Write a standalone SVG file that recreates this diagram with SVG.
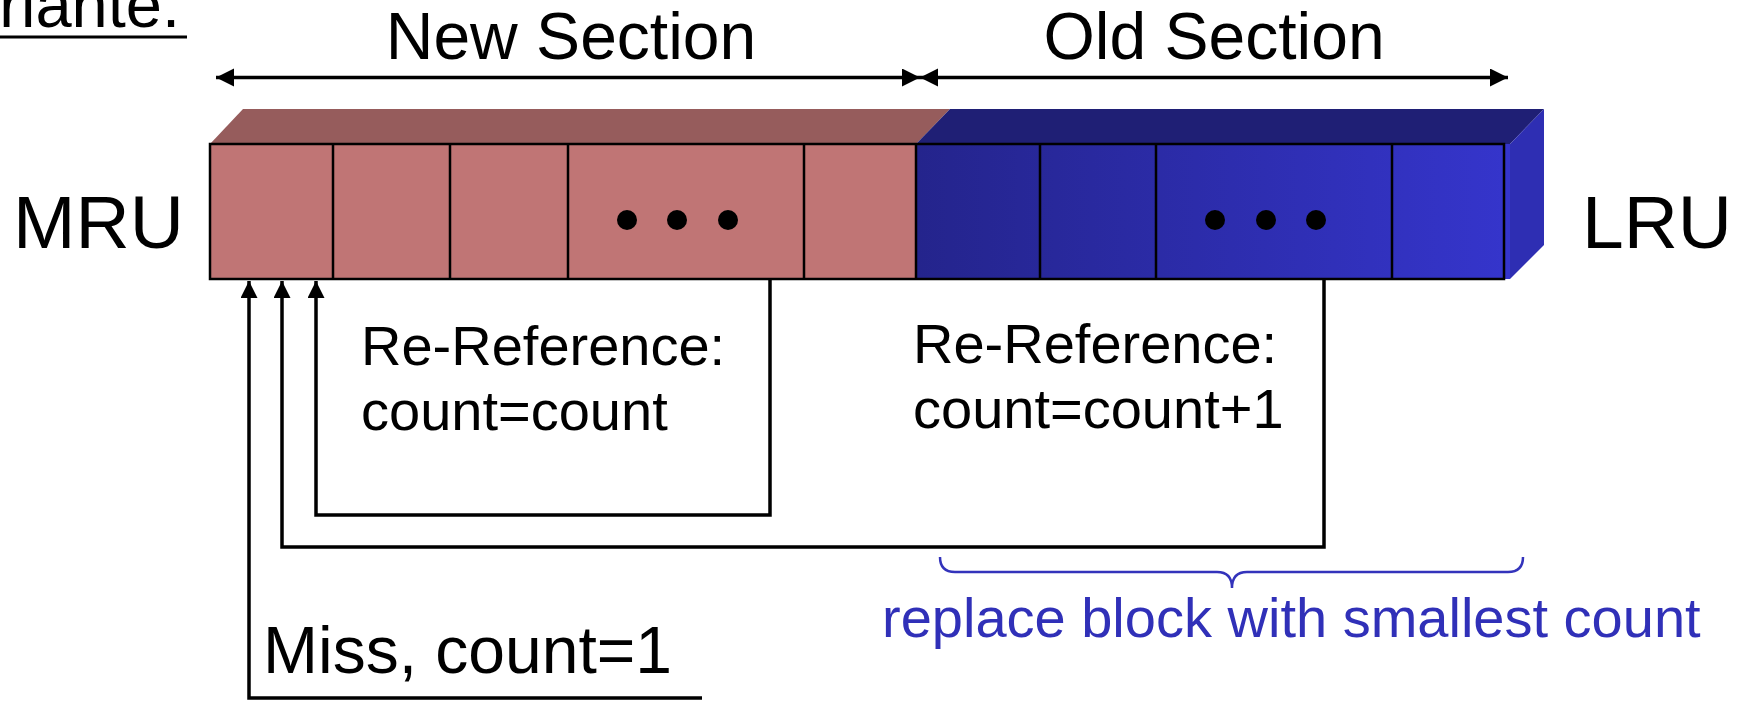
<svg xmlns="http://www.w3.org/2000/svg" width="1751" height="701" viewBox="0 0 1751 701">
  <style>
    text { font-family: "Liberation Sans", Arial, sans-serif; fill: #000; }
    .big { font-size: 66px; }
    .end { font-size: 75px; }
    .lbl { font-size: 56px; }
    .note { font-size: 56px; fill: #3030b8; }
    .cell { fill: none; stroke: #000; stroke-width: 2.5; }
    .wire { fill: none; stroke: #000; stroke-width: 3.5; }
    .brace { fill: none; stroke: #3333bb; stroke-width: 2.5; }
  </style>
  <defs>
    <linearGradient id="oldFront" x1="0" y1="0" x2="1" y2="0">
      <stop offset="0" stop-color="#24248c"/>
      <stop offset="1" stop-color="#3535cc"/>
    </linearGradient>
    <marker id="tip" markerUnits="userSpaceOnUse" markerWidth="20" markerHeight="20" refX="18" refY="9" orient="auto-start-reverse">
      <path d="M0,0 L18,9 L0,18 z" fill="#000"/>
    </marker>
    <marker id="up" markerUnits="userSpaceOnUse" markerWidth="20" markerHeight="20" refX="17" refY="8.5" orient="auto">
      <path d="M0,0 L17,8.5 L0,17 z" fill="#000"/>
    </marker>
  </defs>

  <rect width="1751" height="701" fill="#fff"/>

  <!-- heading fragment at the top-left edge -->
  <text id="heading" x="180" y="27" style="font-size:65px" text-anchor="end">riante.</text>
  <rect x="0" y="35.5" width="187" height="3" fill="#000"/>

  <!-- section labels -->
  <g id="new-section">
    <text x="571" y="59" class="big" text-anchor="middle">New Section</text>
  </g>
  <g id="old-section">
    <text x="1214" y="59" class="big" text-anchor="middle">Old Section</text>
  </g>

  <g id="mru"><text x="13" y="248" class="end">MRU</text></g>
  <g id="lru"><text x="1732" y="248" class="end" text-anchor="end">LRU</text></g>

  <!-- the LRU stack drawn as a 3D bar -->
  <g id="stack">
    <polygon points="210,144 243,109 950,109 916,144" fill="#965c5c"/>
    <polygon points="916,144 950,109 1544,109 1510,144" fill="#1f1f75"/>
    <polygon points="1510,144 1544,109 1544,245 1510,279" fill="#2e2eb3"/>
    <rect x="210" y="144" width="706" height="135" fill="#c07575"/>
    <rect x="916" y="144" width="594" height="135" fill="url(#oldFront)"/>
    <rect x="210" y="144" width="1294" height="135" class="cell"/>
    <path class="cell" d="M333,144 V279 M450,144 V279 M568,144 V279 M804,144 V279 M916,144 V279 M1040,144 V279 M1156,144 V279 M1392,144 V279"/>
    <g fill="#000">
      <circle cx="627" cy="220" r="10"/>
      <circle cx="677" cy="220" r="10"/>
      <circle cx="728" cy="220" r="10"/>
      <circle cx="1215" cy="220" r="10"/>
      <circle cx="1266" cy="220" r="10"/>
      <circle cx="1316" cy="220" r="10"/>
    </g>
  </g>

  <g id="connectors">
    <line class="wire" x1="216" y1="77.5" x2="920" y2="77.5" marker-start="url(#tip)" marker-end="url(#tip)"/>
    <line class="wire" x1="920" y1="77.5" x2="1508" y2="77.5" marker-start="url(#tip)" marker-end="url(#tip)"/>
    <path class="wire" d="M770,279 V515 H316 V281" marker-end="url(#up)"/>
    <path class="wire" d="M1324,279 V547 H282 V281" marker-end="url(#up)"/>
    <path class="wire" d="M702,698 H249 V281" marker-end="url(#up)"/>
  </g>

  <g id="hit-new">
    <text x="361" y="365" class="lbl">Re-Reference:</text>
    <text x="361" y="430" class="lbl">count=count</text>
  </g>
  <g id="hit-old">
    <text x="913" y="363" class="lbl">Re-Reference:</text>
    <text x="913" y="428" class="lbl">count=count+1</text>
  </g>
  <g id="miss">
    <text x="263" y="673" style="font-size:66px">Miss, count=1</text>
  </g>

  <g id="victim">
    <path class="brace" d="M940,557 Q940,572 955,572 H1217 Q1232,572 1232,588 Q1232,572 1247,572 H1508 Q1523,572 1523,557"/>
    <text x="882" y="637" class="note">replace block with smallest count</text>
  </g>
</svg>
